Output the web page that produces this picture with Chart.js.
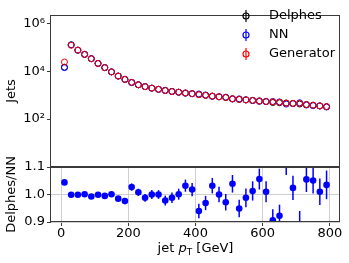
<!DOCTYPE html>
<html>
<head>
<meta charset="utf-8">
<script src="https://cdn.jsdelivr.net/npm/chart.js@4.4.0/dist/chart.umd.min.js"></script>
<style>
  html, body { margin: 0; padding: 0; background: #fff; }
  #wrap { position: relative; width: 349px; height: 263px; overflow: hidden; }
  canvas { position: absolute; left: 0; }
  #mainChart { top: 0; }
  #ratioChart { top: 140px; }
</style>
</head>
<body>
<div id="wrap">
  <canvas id="mainChart" width="349" height="180"></canvas>
  <canvas id="ratioChart" width="349" height="123"></canvas>
</div>
<script>
// ---------- Data ----------
const binCenters = [10, 30, 50, 70, 90, 110, 130, 150, 170, 190,
  210, 230, 250, 270, 290, 310, 330, 350, 370, 390,
  410, 430, 450, 470, 490, 510, 530, 550, 570, 590,
  610, 630, 650, 670, 690, 710, 730, 750, 770, 790];

const delphesJets = [14600, 125000, 75000, 50000, 33000, 21000, 14000, 9300, 6200, 4500,
  3400, 2700, 2250, 1950, 1740, 1550, 1410, 1320, 1230, 1150,
  1050, 980, 910, 850, 795, 710, 660, 630, 600, 575,
  540, 490, 480, 470, 450, 425, 405, 380, 355, 330];

const nnJets = [14000, 125000, 75000, 50000, 33200, 21000, 14100, 9300, 6290, 4610,
  3310, 2680, 2280, 1950, 1740, 1585, 1427, 1320, 1190, 1130,
  1117, 1011, 882, 850, 818, 683, 695, 638, 592, 545,
  535, 541, 520, 421, 439, 479, 384, 362, 351, 319];

const generatorJets = [24000, 120000, 75000, 50000, 33000, 21000, 14000, 9300, 6200, 4500,
  3400, 2700, 2250, 1950, 1740, 1550, 1410, 1320, 1230, 1150,
  1050, 980, 910, 850, 795, 700, 665, 630, 600, 570,
  540, 525, 505, 455, 450, 455, 400, 380, 355, 330];

const ratioValues = [1.044, 0.999, 0.999, 1.001, 0.993, 0.999, 0.995, 1.001, 0.985, 0.976,
  1.027, 1.008, 0.988, 1.0, 1.0, 0.978, 0.988, 1.001, 1.032, 1.018,
  0.940, 0.969, 1.032, 1.0, 0.972, 1.039, 0.949, 0.988, 1.013, 1.056,
  1.01, 0.906, 0.923, 1.115, 1.024, 0.888, 1.055, 1.051, 1.01, 1.035];

const ratioErrors = [0.003, 0.002, 0.002, 0.003, 0.003, 0.004, 0.004, 0.005, 0.008, 0.010,
  0.013, 0.013, 0.014, 0.016, 0.016, 0.018, 0.019, 0.020, 0.022, 0.024,
  0.026, 0.026, 0.028, 0.028, 0.030, 0.032, 0.032, 0.034, 0.035, 0.038,
  0.038, 0.040, 0.040, 0.044, 0.044, 0.052, 0.046, 0.047, 0.048, 0.052];

const xTicks = [0, 200, 400, 600, 800];
const jetsTicks = [1e2, 1e4, 1e6];
const jetsTickLabels = ["10\u00b2", "10\u2074", "10\u2076"];
const ratioTicks = [0.9, 1.0, 1.1];

const FONT = "'DejaVu Sans', sans-serif";
const FRAME = "#3a3a3a";

Chart.defaults.font.family = FONT;
Chart.defaults.font.size = 13;
Chart.defaults.color = "#000";

// ---------- Helpers ----------
function toPoints(values) {
  return binCenters.map((x, i) => ({ x, y: values[i] }));
}

function setTicks(list) {
  return scale => { scale.ticks = list.map(v => ({ value: v })); };
}

// full box round the plot area, like the matplotlib spines
const framePlugin = {
  id: "frame",
  afterDraw(chart) {
    const { ctx, chartArea: a } = chart;
    ctx.save();
    ctx.strokeStyle = FRAME;
    ctx.lineWidth = 1;
    ctx.strokeRect(Math.round(a.left) - 0.5, Math.round(a.top) + 0.5,
      Math.round(a.right - a.left), Math.round(a.bottom - a.top) - 1);
    ctx.restore();
  }
};

// legend with errorbar style markers, top right inside the plot
const legendPlugin = {
  id: "errLegend",
  afterDraw(chart) {
    const { ctx, chartArea: a } = chart;
    ctx.save();
    ctx.font = "13px " + FONT;
    ctx.textBaseline = "middle";
    ctx.fillStyle = "#000";
    chart.data.datasets.forEach((ds, i) => {
      const y = 16 + i * 19;
      const mx = a.right - 94;
      ctx.strokeStyle = ds.borderColor;
      ctx.lineWidth = 1.2;
      ctx.beginPath();
      ctx.moveTo(mx, y - 6);
      ctx.lineTo(mx, y + 6);
      ctx.stroke();
      ctx.beginPath();
      ctx.arc(mx, y, 3, 0, Math.PI * 2);
      ctx.stroke();
      ctx.fillText(ds.label, a.right - 71, y);
    });
    ctx.restore();
  }
};

// vertical error bars on the ratio points
const errorBarPlugin = {
  id: "errorBars",
  beforeDatasetsDraw(chart) {
    const { ctx, chartArea: a, scales } = chart;
    ctx.save();
    ctx.beginPath();
    ctx.rect(a.left, a.top, a.right - a.left, a.bottom - a.top);
    ctx.clip();
    ctx.strokeStyle = "#0000ff";
    ctx.lineWidth = 1.5;
    binCenters.forEach((x, i) => {
      const px = scales.x.getPixelForValue(x);
      ctx.beginPath();
      ctx.moveTo(px, scales.y.getPixelForValue(ratioValues[i] - ratioErrors[i]));
      ctx.lineTo(px, scales.y.getPixelForValue(ratioValues[i] + ratioErrors[i]));
      ctx.stroke();
    });
    ctx.restore();
  }
};

// x title with italic p and subscript T
const xTitlePlugin = {
  id: "xTitle",
  afterDraw(chart) {
    const { ctx, chartArea: a } = chart;
    const parts = [
      { t: "jet ", f: "13px " + FONT, dy: 0 },
      { t: "p", f: "italic 13px " + FONT, dy: 0 },
      { t: "T", f: "9px " + FONT, dy: 3 },
      { t: " [GeV]", f: "13px " + FONT, dy: 0 }
    ];
    ctx.save();
    ctx.fillStyle = "#000";
    ctx.textBaseline = "alphabetic";
    let total = 0;
    parts.forEach(p => { ctx.font = p.f; p.w = ctx.measureText(p.t).width; total += p.w; });
    let x = (a.left + a.right) / 2 - total / 2;
    const y = chart.height - 11;
    parts.forEach(p => {
      ctx.font = p.f;
      ctx.fillText(p.t, x, y + p.dy);
      x += p.w;
    });
    ctx.restore();
  }
};

// ---------- Top panel: jet counts ----------
new Chart(document.getElementById("mainChart"), {
  type: "scatter",
  data: {
    datasets: [
      { label: "Delphes", data: toPoints(delphesJets), borderColor: "#000000", order: 2 },
      { label: "NN", data: toPoints(nnJets), borderColor: "#0000ff", order: 1 },
      { label: "Generator", data: toPoints(generatorJets), borderColor: "#ff0000", order: 0 }
    ].map(ds => Object.assign(ds, {
      backgroundColor: "rgba(0,0,0,0)",
      pointRadius: 3,
      pointBorderWidth: 1,
      pointHoverRadius: 3,
      clip: 0
    }))
  },
  options: {
    responsive: false,
    animation: false,
    layout: { padding: { left: 0, right: 9, top: 15, bottom: 0 } },
    plugins: { legend: { display: false }, tooltip: { enabled: false } },
    scales: {
      x: {
        type: "linear",
        min: -30,
        max: 830,
        afterBuildTicks: setTicks(xTicks),
        afterFit: s => { s.height = 13; },
        border: { display: false },
        grid: { drawOnChartArea: false, tickLength: 3, color: FRAME },
        ticks: { display: false }
      },
      y: {
        type: "logarithmic",
        min: 1,
        max: 2.2e6,
        afterBuildTicks: setTicks(jetsTicks),
        afterFit: s => { s.width = 51; },
        border: { display: false },
        grid: { drawOnChartArea: false, tickLength: 4, color: FRAME },
        ticks: { padding: 2, callback: (v, i) => jetsTickLabels[i] },
        title: { display: true, text: "Jets", font: { size: 13 }, padding: 4 }
      }
    }
  },
  plugins: [framePlugin, legendPlugin]
});

// ---------- Bottom panel: Delphes/NN ratio ----------
new Chart(document.getElementById("ratioChart"), {
  type: "scatter",
  data: {
    datasets: [{
      label: "Delphes/NN",
      data: toPoints(ratioValues),
      backgroundColor: "#0000ff",
      borderWidth: 0,
      pointRadius: 3.3,
      pointHoverRadius: 3.3,
      clip: 0
    }]
  },
  options: {
    responsive: false,
    animation: false,
    layout: { padding: { left: 0, right: 9, top: 27, bottom: 0 } },
    plugins: { legend: { display: false }, tooltip: { enabled: false } },
    scales: {
      x: {
        type: "linear",
        min: -30,
        max: 830,
        afterBuildTicks: setTicks(xTicks),
        afterFit: s => { s.height = 41; },
        border: { display: false },
        grid: { color: "#cfcfcf", tickColor: FRAME, tickLength: 4 },
        ticks: { padding: 1, maxRotation: 0, font: { lineHeight: 1 } }
      },
      y: {
        type: "linear",
        min: 0.9,
        max: 1.1,
        afterBuildTicks: setTicks(ratioTicks),
        afterFit: s => { s.width = 51; },
        border: { display: false },
        grid: { color: "#cfcfcf", tickColor: FRAME, tickLength: 4 },
        ticks: { padding: 2, font: { lineHeight: 1 }, callback: v => v.toFixed(1) },
        title: { display: true, text: "Delphes/NN", font: { size: 13 }, padding: 4 }
      }
    }
  },
  plugins: [errorBarPlugin, framePlugin, xTitlePlugin]
});
</script>
</body>
</html>
